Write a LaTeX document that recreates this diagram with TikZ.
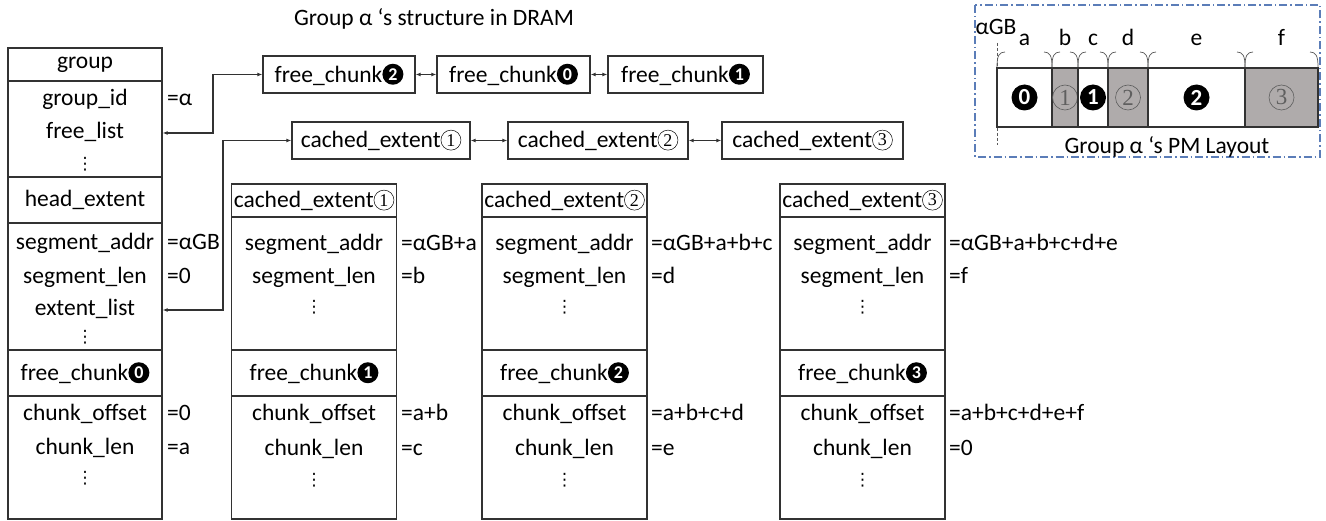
\documentclass[tikz,border=0pt]{standalone}
\usepackage{fontspec}
\setmainfont{Carlito}
\newfontfamily\numserif{Liberation Serif}
\newfontfamily\symfont{DejaVu Sans}
\usetikzlibrary{arrows.meta}

\definecolor{linegray}{RGB}{50,50,50}
\definecolor{segfill}{RGB}{175,171,171}
\definecolor{frameblue}{RGB}{91,125,184}
\definecolor{hookgray}{RGB}{90,90,90}
\definecolor{digitgray}{RGB}{95,95,95}

% black (negative) circled digit and outlined circled digit, inline in text
\newcommand{\bnum}[1]{\tikz[baseline=-0.7ex]\node[circle,fill=black,inner sep=0pt,minimum size=21pt,text=white,font=\fontsize{18}{18}\selectfont\bfseries]{#1};}
\newcommand{\wnum}[1]{\tikz[baseline=-0.7ex]\node[circle,draw=black,line width=0.5pt,inner sep=0pt,minimum size=20pt,font=\numserif\fontsize{18}{18}\selectfont]{#1};}
% larger versions for the layout strip
\newcommand{\bnumL}[1]{\tikz\node[circle,fill=black,inner sep=0pt,minimum size=26pt,text=white,font=\fontsize{23}{23}\selectfont\bfseries]{#1};}
\newcommand{\wnumL}[1]{\tikz\node[circle,draw=digitgray,line width=0.6pt,inner sep=0pt,minimum size=25pt,text=digitgray,font=\numserif\fontsize{23}{23}\selectfont]{#1};}

\tikzset{
  txt/.style={inner sep=0pt, anchor=mid},
  val/.style={inner sep=0pt, anchor=mid west},
  dots/.style={font=\symfont\fontsize{17}{17}\selectfont, inner sep=0pt},
  sec/.style={draw=linegray, line width=1.3pt, inner sep=0pt},
  hdrbox/.style={sec},
  chainbox/.style={draw=linegray, line width=1.3pt, inner sep=0pt, minimum height=37pt},
  link/.style={<->, >={Latex[length=5pt,width=4pt]}, line width=1.1pt, draw=linegray},
  seg/.style={draw=linegray, line width=1.3pt, inner sep=0pt, minimum height=59pt},
}

\begin{document}
\fontsize{23.5}{28}\selectfont
\begin{tikzpicture}[x=1pt,y=-1pt,font=\fontsize{23.5}{28}\selectfont]
\useasboundingbox (0,0) rectangle (1326,521);

\node[txt] (title) at (434,20) {Group α ‘s structure in DRAM};

% ---------------- group descriptor ----------------
\node[hdrbox, minimum width=154pt, minimum height=33pt] (g0) at (85,64.5) {group};
\node[sec, minimum width=154pt, minimum height=96pt] (g1) at (85,129) {};
\node[hdrbox, minimum width=154pt, minimum height=46pt] (g2) at (85,200) {head\_extent};
\node[sec, minimum width=154pt, minimum height=127pt] (g3) at (85,286.5) {};
\node[hdrbox, minimum width=154pt, minimum height=46pt] (g4) at (85,373) {free\_chunk\bnum{0}};
\node[sec, minimum width=154pt, minimum height=123pt] (g5) at (85,457.5) {};

\node[txt] (tgid) at (85,100) {group\_id};
\node[txt] (tflist) at (85,133) {free\_list};
\node[dots] (tgd1) at (85,164) {⋮};
\node[txt] (tsaddr) at (85,244) {segment\_addr};
\node[txt] (tslen) at (85,278) {segment\_len};
\node[txt] (textl) at (85,310) {extent\_list};
\node[dots] (tgd2) at (85,337) {⋮};
\node[txt] (tcoff) at (85,415) {chunk\_offset};
\node[txt] (tclen) at (85,449) {chunk\_len};
\node[dots] (tgd3) at (85,478) {⋮};

\node[val] (vgid) at (167,100) {=α};
\node[val] (vsaddr) at (167,244) {=αGB};
\node[val] (vslen) at (167,278) {=0};
\node[val] (vcoff) at (167,415) {=0};
\node[val] (vclen) at (167,449) {=a};

% ---------------- cached extents ----------------
\foreach \n/\cx/\vx/\va/\vb/\vc/\vd in {
  1/314/401/{=αGB+a}/{=b}/{=a+b}/{=c},
  2/564.5/651/{=αGB+a+b+c}/{=d}/{=a+b+c+d}/{=e},
  3/862.5/949/{=αGB+a+b+c+d+e}/{=f}/{=a+b+c+d+e+f}/{=0}}
{
  \node[hdrbox, minimum width=165pt, minimum height=33pt] (x\n-h) at (\cx,200.5) {cached\_extent\wnum{\n}};
  \node[sec, minimum width=165pt, minimum height=133pt] (x\n-s) at (\cx,283.5) {};
  \node[hdrbox, minimum width=165pt, minimum height=46pt] (x\n-f) at (\cx,373) {free\_chunk\bnum{\n}};
  \node[sec, minimum width=165pt, minimum height=123pt] (x\n-c) at (\cx,457.5) {};
  \node[txt] (x\n-t1) at (\cx,245) {segment\_addr};
  \node[txt] (x\n-t2) at (\cx,278) {segment\_len};
  \node[dots] (x\n-t3) at (\cx,307) {⋮};
  \node[txt] (x\n-t4) at (\cx,415) {chunk\_offset};
  \node[txt] (x\n-t5) at (\cx,450) {chunk\_len};
  \node[dots] (x\n-t6) at (\cx,480) {⋮};
  \node[val] (x\n-v1) at (\vx,245) {\va};
  \node[val] (x\n-v2) at (\vx,278) {\vb};
  \node[val] (x\n-v3) at (\vx,415) {\vc};
  \node[val] (x\n-v4) at (\vx,450) {\vd};
}

% ---------------- lists ----------------
\node[chainbox, minimum width=152pt] (fc2) at (339,74.5) {free\_chunk\bnum{2}};
\node[chainbox, minimum width=153pt] (fc0) at (513.5,74.5) {free\_chunk\bnum{0}};
\node[chainbox, minimum width=155pt] (fc1) at (685.5,74.5) {free\_chunk\bnum{1}};

\node[chainbox, minimum width=178pt] (ce1) at (381,140.5) {cached\_extent\wnum{1}};
\node[chainbox, minimum width=180pt] (ce2) at (598,140.5) {cached\_extent\wnum{2}};
\node[chainbox, minimum width=181pt] (ce3) at (812.5,140.5) {cached\_extent\wnum{3}};

\draw[link] (fc2) -- (fc0);
\draw[link] (fc0) -- (fc1);
\draw[link] (ce1) -- (ce2);
\draw[link] (ce2) -- (ce3);

\coordinate (j1) at (213,133);
\coordinate (j2) at (223,310);
\draw[link] (g1.east |- j1) -- (j1) |- (fc2.west);
\draw[link] (g3.east |- j2) -- (j2) |- (ce1.west);

% ---------------- PM layout ----------------
\draw[frameblue, line width=1.2pt, dash pattern=on 8pt off 3pt on 1.5pt off 3pt] (975,5) rectangle (1320,157);
\node[txt] (lagb) at (996,29) {αGB};
\draw[hookgray, line width=0.6pt, dash pattern=on 3pt off 2pt] (997,43) -- (997,145);

\node[seg, minimum width=55pt] (sa) at (1024.5,97.5) {\bnumL{0}};
\node[seg, minimum width=26pt, fill=segfill] (sb) at (1065,97.5) {\wnumL{1}};
\node[seg, minimum width=30pt] (sc) at (1093,97.5) {\bnumL{1}};
\node[seg, minimum width=40pt, fill=segfill] (sd) at (1128,97.5) {\wnumL{2}};
\node[seg, minimum width=97pt] (se) at (1196.5,97.5) {\bnumL{2}};
\node[seg, minimum width=73pt, fill=segfill] (sf) at (1281.5,97.5) {\wnumL{3}};

\foreach \l/\r/\lab in {997/1052/a,1052/1078/b,1078/1108/c,1108/1148/d,1148/1245/e,1245/1318/f}{
  \draw[hookgray, line width=0.7pt] (\l,67) .. controls (\l,56) and (\l+2,52) .. (\l+8,52)
                                    (\r-8,52) .. controls (\r-2,52) and (\r,56) .. (\r,67);
  \node[txt] (lab-\lab) at ({(\l+\r)/2},40) {\lab};
}

\node[txt] (pmcap) at (1167,148) {Group α ‘s PM Layout};
\end{tikzpicture}
\end{document}
